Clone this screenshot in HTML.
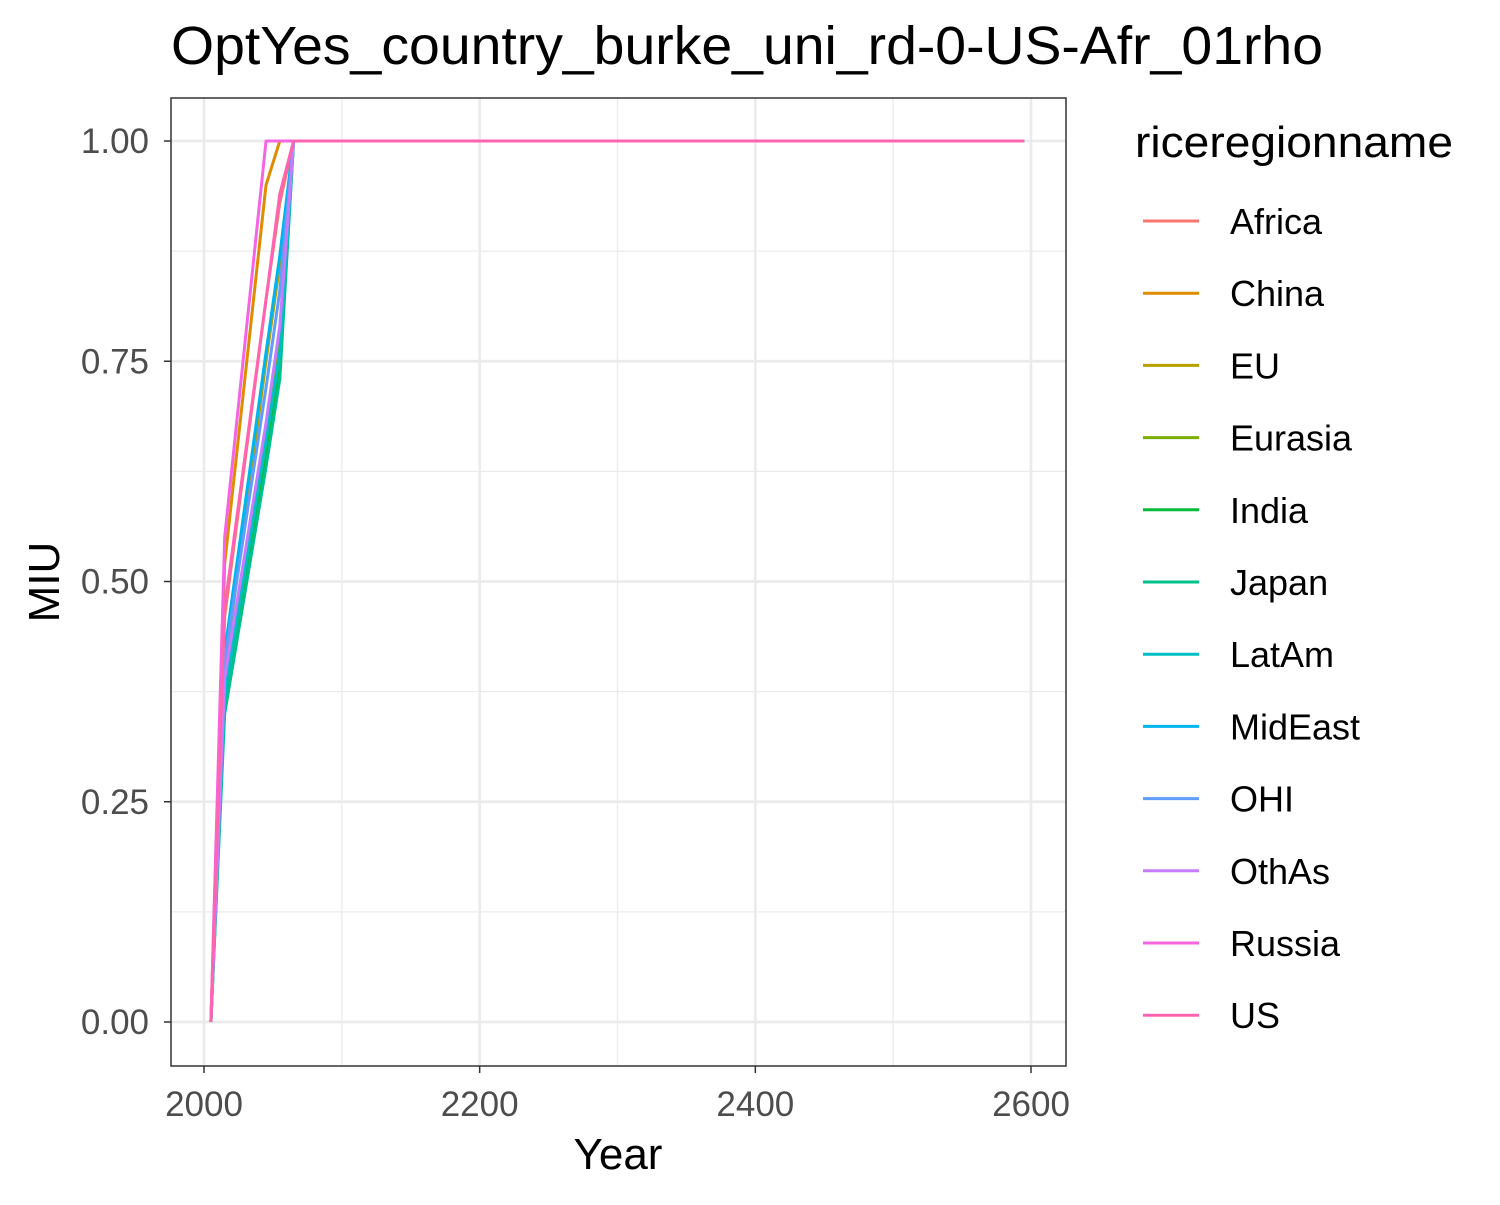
<!DOCTYPE html>
<html><head><meta charset="utf-8"><style>
body{margin:0;background:#fff}
svg text{font-family:"Liberation Sans",Arial,sans-serif}
</style></head><body>
<svg id="chart" width="1500" height="1200" xmlns="http://www.w3.org/2000/svg">
<rect width="1500" height="1200" fill="#fff"/>
<text x="171" y="64" font-size="54" textLength="1152" lengthAdjust="spacingAndGlyphs" fill="#000">OptYes_country_burke_uni_rd-0-US-Afr_01rho</text>
<g id="grid"></g>
<g id="lines"></g>
<rect x="171" y="98" width="895" height="968" fill="none" stroke="#333" stroke-width="1.5"/>
<g id="axes"></g>
<text x="618" y="1169" font-size="44" text-anchor="middle" fill="#000">Year</text>
<text transform="translate(59,582) rotate(-90)" font-size="44" text-anchor="middle" fill="#000">MIU</text>
<text x="1135" y="157" font-size="44" textLength="318" lengthAdjust="spacingAndGlyphs" fill="#000">riceregionname</text>
<g id="legend"></g>
</svg>
<script>
const years=[2005,2015,2045,2055,2065,2595];
const regions=["Africa","China","EU","Eurasia","India","Japan","LatAm","MidEast","OHI","OthAs","Russia","US"];
const colors=["#F8766D","#DE8C00","#B79F00","#7CAE00","#00BA38","#00C08B","#00BFC4","#00B4F0","#619CFF","#C77CFF","#F564E3","#FF64B0"];
const vAfrica=[0,0.46,0.82,0.93,1,1];
const vChina=[0,0.52,0.95,1,1,1];
const vEU=[0,0.40,0.75,0.86,1,1];
const vEurasia=[0,0.38,0.67,0.77,1,1];
const vIndia=[0,0.36,0.64,0.74,1,1];
const vJapan=[0,0.35,0.63,0.73,1,1];
const vLatAm=[0,0.37,0.66,0.76,1,1];
const vMidEast=[0,0.42,0.76,0.87,1,1];
const vOHI=[0,0.41,0.72,0.83,1,1];
const vOthAs=[0,0.39,0.68,0.79,1,1];
const vRussia=[0,0.55,1,1,1,1];
const vUS=[0,0.47,0.82,0.94,1,1];
const series=[vAfrica,vChina,vEU,vEurasia,vIndia,vJapan,vLatAm,vMidEast,vOHI,vOthAs,vRussia,vUS];
const xTicks=[2000,2200,2400,2600];
const yTicks=[0,0.25,0.5,0.75,1];
const yLabels=["0.00","0.25","0.50","0.75","1.00"];
const NS="http://www.w3.org/2000/svg";
const X=v=>204+(v-2000)*(1031-204)/600;
const Y=v=>1022-v*881;
function mk(tag,attrs,parent){const e=document.createElementNS(NS,tag);for(const k in attrs)e.setAttribute(k,attrs[k]);parent.appendChild(e);return e;}
const grid=document.getElementById('grid'),axes=document.getElementById('axes'),lines=document.getElementById('lines'),legend=document.getElementById('legend');
for(let i=0;i<xTicks.length-1;i++){const m=(xTicks[i]+xTicks[i+1])/2;const g=mk('line',{x1:X(m),x2:X(m),y1:98,y2:1066,stroke:'#EBEBEB','stroke-width':1.3},grid);

}
for(let i=0;i<yTicks.length-1;i++){const m=(yTicks[i]+yTicks[i+1])/2;const g=mk('line',{x1:171,x2:1066,y1:Y(m),y2:Y(m),stroke:'#EBEBEB','stroke-width':1.3},grid);

}
xTicks.forEach(t=>{const g=mk('line',{x1:X(t),x2:X(t),y1:98,y2:1066,stroke:'#EBEBEB','stroke-width':2.7},grid);


const tk=mk('line',{x1:X(t),x2:X(t),y1:1066,y2:1073,stroke:'#333','stroke-width':1.5},axes);


const tx=mk('text',{x:X(t),y:1116,'font-size':35,fill:'#4D4D4D','text-anchor':'middle'},axes);tx.textContent=t;

});
yTicks.forEach((t,i)=>{const g=mk('line',{x1:171,x2:1066,y1:Y(t),y2:Y(t),stroke:'#EBEBEB','stroke-width':2.7},grid);


const tk=mk('line',{x1:164,x2:171,y1:Y(t),y2:Y(t),stroke:'#333','stroke-width':1.5},axes);


const tx=mk('text',{x:149,y:Y(t)+12,'font-size':35,fill:'#4D4D4D','text-anchor':'end'},axes);tx.textContent=yLabels[i];

});
series.forEach((s,i)=>{const p=mk('polyline',{points:s.map((v,j)=>X(years[j])+','+Y(v)).join(' '),fill:'none',stroke:colors[i],'stroke-width':3,'stroke-linejoin':'round'},lines);


const gy=221+i*72.2;
const k=mk('line',{x1:1143,x2:1199,y1:gy,y2:gy,stroke:colors[i],'stroke-width':3},legend);


const t=mk('text',{x:1230,y:gy+13,'font-size':36,fill:'#000'},legend);t.textContent=regions[i];

});
</script>
</body></html>
